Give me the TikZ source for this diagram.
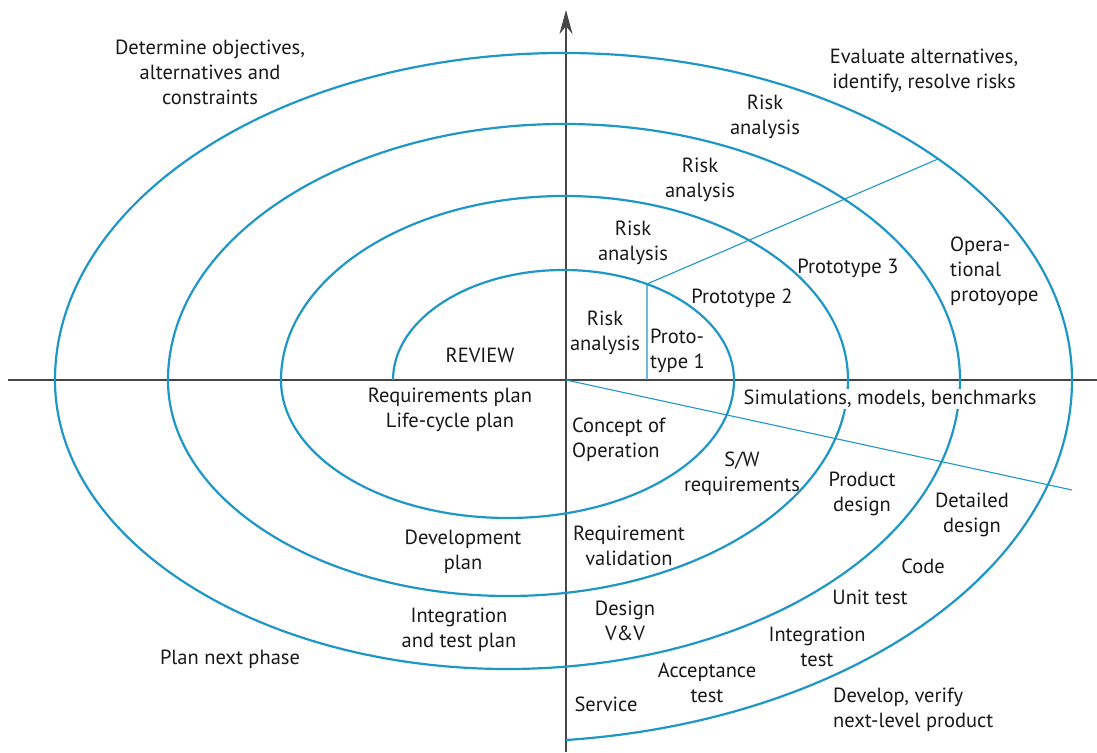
\documentclass[tikz,border=0pt]{standalone}
\usepackage{fontspec}
\setmainfont{PT Sans}
\usetikzlibrary{arrows.meta}
\definecolor{spiralblue}{RGB}{30,150,198}
\definecolor{axisgray}{RGB}{70,70,70}

\begin{document}
\begin{tikzpicture}[x=1pt, y=1pt,
	spiral/.style={line width=2.2pt, spiralblue},
	radial/.style={line width=1.1pt, spiralblue},
	axe/.style={line width=1.8pt, axisgray},
	lbl/.style={font=\fontsize{20.5}{25}\selectfont, align=center, inner sep=1pt, text=black!90}]

	\useasboundingbox (-566,-372) rectangle (531,380);

	% axes
	\coordinate (O) at (0,0);
	\coordinate (xg) at (-558,0);
	\coordinate (xd) at (531,0);
	\coordinate (yb) at (0,-372);
	\coordinate (yh) at (0,370);
	\draw [axe] (xg) -- (xd);
	\draw [axe, -{Stealth[length=24pt, width=13pt]}] (yb) -- (yh);

	% spirale : demi-ellipses
	\draw [spiral] (-173,0)
		arc [start angle=180, end angle=0, x radius=170.5pt, y radius=110pt]
		arc [start angle=0, end angle=-180, x radius=226.5pt, y radius=138pt]
		arc [start angle=180, end angle=0, x radius=283.5pt, y radius=184pt]
		arc [start angle=0, end angle=-180, x radius=340pt, y radius=216pt]
		arc [start angle=180, end angle=0, x radius=396pt, y radius=256pt]
		arc [start angle=0, end angle=-180, x radius=452.5pt, y radius=289pt]
		arc [start angle=180, end angle=0, x radius=508.5pt, y radius=327pt]
		arc [start angle=0, end angle=-84, x radius=565pt, y radius=362pt];

	% traits des prototypes
	\coordinate (p1) at (81,0);
	\coordinate (p2) at (81,96);
	\coordinate (p3) at (372,221);
	\coordinate (p4) at (506,-110);
	\draw [radial] (p1) -- (p2) -- (p3);
	\draw [radial] (O) -- (p4);

	\node [lbl] (objectifs) at (-356,308) {Determine objectives,\\alternatives and\\constraints};
	\node [lbl] (evaluer) at (358,309) {Evaluate alternatives,\\identify, resolve risks};
	\node [lbl] (risque4) at (199,263) {Risk\\analysis};
	\node [lbl] (risque3) at (134,200) {Risk\\analysis};
	\node [lbl] (risque2) at (67,137) {Risk\\analysis};
	\node [lbl] (risque1) at (39,47) {Risk\\analysis};
	\node [lbl, align=left, anchor=west] (proto1) at (83,29) {Proto-\\type 1};
	\node [lbl] (proto2) at (176,82) {Prototype 2};
	\node [lbl] (proto3) at (282,112) {Prototype 3};
	\node [lbl, align=left, anchor=west] (protoop) at (383,109) {Opera-\\tional\\protoyope};
	\node [lbl] (review) at (-86,25) {REVIEW};
	\node [lbl] (plans) at (-116,-30) {Requirements plan\\Life-cycle plan};
	\node [lbl, align=left, anchor=west] (concept) at (5,-60) {Concept of\\Operation};
	\node [lbl] (swreq) at (176,-94) {S/W\\requirements};
	\node [lbl, fill=white] (simul) at (324,-19) {Simulations, models, benchmarks};
	\node [lbl] (pdesign) at (296,-114) {Product\\design};
	\node [lbl] (ddesign) at (406,-135) {Detailed\\design};
	\node [lbl] (code) at (357,-186) {Code};
	\node [lbl] (unit) at (304,-217) {Unit test};
	\node [lbl] (integ) at (251,-267) {Integration\\test};
	\node [lbl] (accept) at (141,-303) {Acceptance\\test};
	\node [lbl] (service) at (40,-324) {Service};
	\node [lbl, align=left, anchor=west] (develop) at (266,-330) {Develop, verify\\next-level product};
	\node [lbl] (reqval) at (63,-166) {Requirement\\validation};
	\node [lbl] (devplan) at (-103,-172) {Development\\plan};
	\node [lbl] (dvv) at (59,-241) {Design\\V\&V};
	\node [lbl] (itplan) at (-107,-250) {Integration\\and test plan};
	\node [lbl] (phase) at (-336,-279) {Plan next phase};

\end{tikzpicture}
\end{document}
